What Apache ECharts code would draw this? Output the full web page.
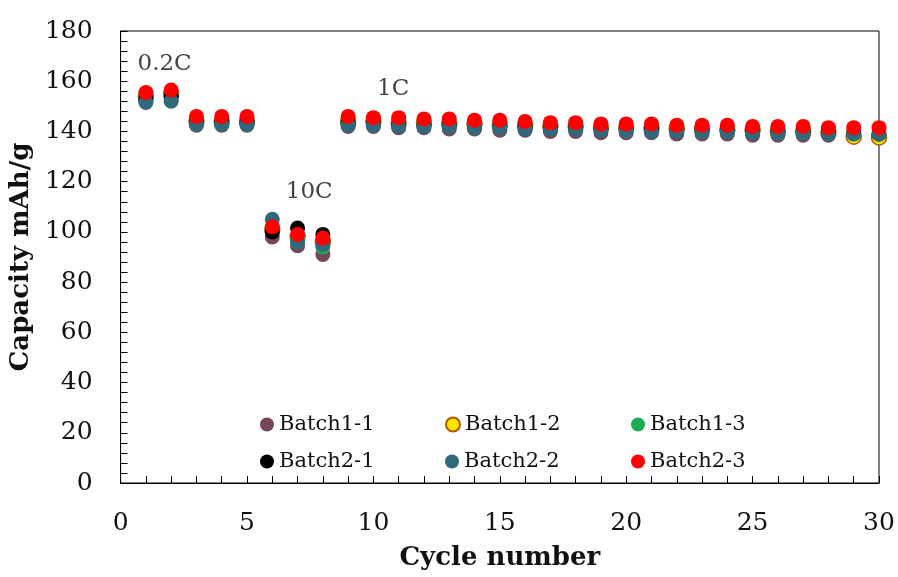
<!DOCTYPE html>
<html>
<head>
<meta charset="utf-8">
<script src="https://cdn.jsdelivr.net/npm/echarts@6/dist/echarts.min.js"></script>
<style>
html,body{margin:0;padding:0;background:#fff;}
#chart{width:898px;height:577px;}
</style>
</head>
<body>
<div id="chart"></div>
<script>
// ---- data ----
var cycles = [1,2,3,4,5,6,7,8,9,10,11,12,13,14,15,16,17,18,19,20,21,22,23,24,25,26,27,28,29,30];
var seriesNames = ['Batch1-1','Batch1-2','Batch1-3','Batch2-1','Batch2-2','Batch2-3'];
var batch1_1 = [152,153,142.5,142.5,142.5,98,94.5,91,142,142,141.5,141.5,141,141,140.5,140.5,140,140,139.5,139.5,139.5,139,139,139,138.5,138.5,138.5,138.5,138.5,138.3];
var batch1_2 = [154,155,144,144,144,101,98,96,144,144,143.5,143.5,143,143,142.5,142.5,142,142,141.5,141.5,141,141,141,140.5,140.5,140,140,139.5,137.9,137.6];
var batch1_3 = [153.5,154.5,143,143,143,100.5,97,94,143.5,143,143,142.5,142.5,142,142,141.5,141.5,141,141,140.5,140.5,140.5,140,140,140,139.5,139.5,139.5,139,139];
var batch2_1 = [153,154,143.5,143.5,143.5,100,101.5,99,143,143,142.5,142.5,142.5,142,142,141.5,141.5,141.5,141,141,141,140.5,140.5,140.5,140,140,140,139.5,139.5,139];
var batch2_2 = [151.5,152,143,143,143,105,96,95,142.5,142.5,142,142,142,141.5,141.5,141,141,141,140.5,140.5,140,140,140,140,139.5,139.5,139.5,139,139,139];
var batch2_3 = [155.5,156.5,146,146,146,102,99,97.5,146,145.5,145.5,145,145,144.5,144.5,144,143.5,143.5,143,143,143,142.5,142.5,142.5,142,142,142,141.5,141.5,141.5];
var annoLabels = ['0.2C','10C','1C'];
var annoX = [1.74, 7.46, 10.78];
var annoY = [167, 116, 157];
var xTicks = [0,5,10,15,20,25,30];
var yTicks = [0,20,40,60,80,100,120,140,160,180];

// ---- build ----
var allValues = [batch1_1,batch1_2,batch1_3,batch2_1,batch2_2,batch2_3];
var colors = ['#74475a','#ffe400','#1daa52','#000000','#2f6a7c','#ff0000'];
var borders = [null,'#b05a00',null,null,null,null];
var FONT = 'DejaVu Serif';

var series = seriesNames.map(function(name,i){
  return {
    name: name,
    type: 'scatter',
    symbol: 'circle',
    symbolSize: 15,
    itemStyle: {color: colors[i], opacity: 1, borderColor: borders[i] || colors[i], borderWidth: borders[i] ? 1.5 : 0},
    data: cycles.map(function(c,j){ return [c, allValues[i][j]]; }),
    z: 2 + i
  };
});
series.push({
  name: 'annotations',
  type: 'scatter',
  symbolSize: 0,
  silent: true,
  data: annoLabels.map(function(t,i){ return {value:[annoX[i], annoY[i]], name:t}; }),
  label: {show:true, position:'inside', formatter:function(p){return p.name;}, color:'#111', fontFamily:FONT, fontSize:23},
  z: 10
});

var legendLeft = [255, 440, 626];
var legendTop = [409, 446];
var legends = seriesNames.map(function(name,i){
  return {
    data: [{name:name, icon:'circle'}],
    left: legendLeft[i%3],
    top: legendTop[Math.floor(i/3)],
    itemWidth: 14, itemHeight: 14,
    selectedMode: false,
    textStyle: {fontFamily: FONT, fontSize: 21, color:'#111'}
  };
});

var chart = echarts.init(document.getElementById('chart'), null, {renderer:'canvas'});
chart.setOption({
  animation: false,
  backgroundColor: '#fff',
  legend: legends,
  grid: {left:120, right:19, top:31, bottom:94, show:true, borderColor:'#000', borderWidth:1},
  xAxis: {
    type:'value', min:0, max:30, interval:5,
    name:'Cycle number', nameLocation:'middle', nameGap:62,
    nameTextStyle:{fontFamily:FONT, fontWeight:'bold', fontSize:26, color:'#111'},
    axisLine:{show:true, lineStyle:{color:'#000', width:1}},
    axisTick:{show:true, inside:true, length:7, lineStyle:{color:'#000'}},
    minorTick:{show:true, splitNumber:5, length:7, lineStyle:{color:'#000'}},
    splitLine:{show:false},
    axisLabel:{fontFamily:FONT, fontSize:25, color:'#111', margin:28,
      formatter:function(v){ return xTicks.indexOf(v)>=0 ? String(v) : ''; }}
  },
  yAxis: {
    type:'value', min:0, max:180, interval:20,
    name:'Capacity mAh/g', nameLocation:'middle', nameGap:74,
    nameTextStyle:{fontFamily:FONT, fontWeight:'bold', fontSize:26, color:'#111'},
    axisLine:{show:true, lineStyle:{color:'#000', width:1}},
    axisTick:{show:true, inside:true, length:7, lineStyle:{color:'#000'}},
    minorTick:{show:true, splitNumber:5, length:7, lineStyle:{color:'#000'}},
    splitLine:{show:false},
    axisLabel:{fontFamily:FONT, fontSize:25, color:'#111', margin:28,
      formatter:function(v){ return yTicks.indexOf(v)>=0 ? String(v) : ''; }}
  },
  series: series
});
</script>
</body>
</html>
